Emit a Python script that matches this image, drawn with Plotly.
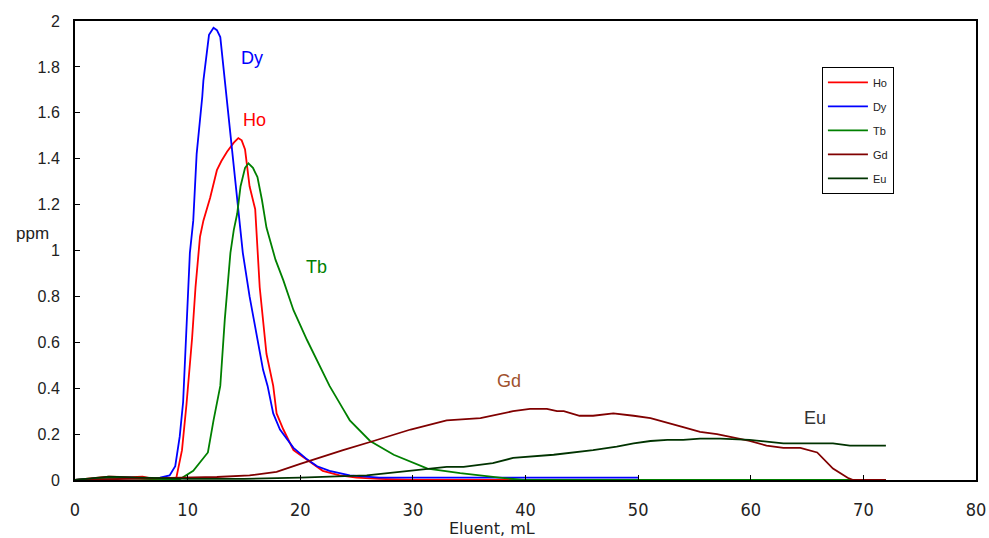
import plotly.graph_objects as go

ho_x = [0, 2, 3, 5, 6, 7, 8, 9.0, 9.5, 9.9, 10.4, 10.7, 11.1, 11.4, 12.0, 12.6, 13.0, 13.5, 14.1, 14.5, 14.8, 15.1, 15.5, 16.0, 16.4, 17.0, 17.6, 17.9, 18.5, 19.4, 20.6, 22.0, 23.5, 25, 27, 30, 40, 50, 60, 72]
ho_y = [0, 0.01, 0.015, 0.012, 0.015, 0.005, 0.005, 0.01, 0.13, 0.33, 0.62, 0.84, 1.06, 1.13, 1.23, 1.35, 1.39, 1.43, 1.47, 1.49, 1.48, 1.44, 1.28, 1.18, 0.84, 0.55, 0.41, 0.29, 0.22, 0.13, 0.09, 0.04, 0.02, 0.01, 0.005, 0, 0, 0, 0, 0]

dy_x = [0, 3, 5, 7, 7.55, 8.4, 8.9, 9.3, 9.6, 9.9, 10.2, 10.5, 10.8, 11.3, 11.4, 11.8, 11.9, 12.3, 12.6, 12.9, 13.2, 13.8, 14.4, 14.9, 15.5, 16.2, 16.7, 17.1, 17.6, 18.2, 19.4, 20.6, 21.5, 22.6, 24.4, 27, 30, 40, 50]
dy_y = [0, 0.01, 0.01, 0.005, 0.01, 0.02, 0.06, 0.19, 0.34, 0.70, 0.99, 1.13, 1.42, 1.67, 1.74, 1.90, 1.94, 1.97, 1.96, 1.93, 1.79, 1.49, 1.21, 0.99, 0.80, 0.62, 0.48, 0.41, 0.29, 0.22, 0.14, 0.09, 0.06, 0.04, 0.02, 0.01, 0.01, 0.01, 0.01]

tb_x = [0, 3, 6, 9.2, 10.5, 11.8, 12.3, 12.9, 13.3, 13.8, 14.1, 14.4, 14.7, 15.1, 15.4, 15.8, 16.2, 16.6, 17.0, 17.8, 18.5, 19.4, 20.6, 21.5, 22.6, 23.8, 24.4, 26.2, 28.3, 31.3, 34.2, 37.7, 39.8, 50, 60, 72]
tb_y = [0, 0.01, 0.005, 0, 0.04, 0.12, 0.26, 0.41, 0.70, 0.99, 1.09, 1.16, 1.28, 1.36, 1.38, 1.36, 1.32, 1.22, 1.10, 0.96, 0.87, 0.74, 0.61, 0.52, 0.41, 0.31, 0.26, 0.17, 0.11, 0.05, 0.03, 0.01, 0.0, 0, 0, 0]

gd_x = [0, 5, 10, 12.6, 15.5, 17.9, 20, 22.4, 23.8, 26.5, 29.8, 33, 36, 38.9, 40.4, 41.9, 42.8, 43.4, 44.8, 46, 47.8, 49.6, 51.1, 54, 55.5, 57, 59.9, 61.4, 62.9, 64.4, 65.9, 67.3, 68.6, 69.1, 72]
gd_y = [0, 0.005, 0.01, 0.013, 0.02, 0.035, 0.07, 0.11, 0.13, 0.17, 0.22, 0.26, 0.27, 0.30, 0.31, 0.31, 0.30, 0.30, 0.28, 0.28, 0.29, 0.28, 0.27, 0.23, 0.21, 0.20, 0.17, 0.15, 0.14, 0.14, 0.12, 0.05, 0.01, 0, 0]

eu_x = [0, 3, 6, 10, 15, 20, 25.9, 28.9, 33, 34.5, 37.1, 38.9, 42.5, 46, 48.1, 49.6, 51.1, 52.6, 54, 55.5, 57.3, 59.9, 62.9, 67.3, 68.8, 72]
eu_y = [0, 0.015, 0.01, 0.005, 0.005, 0.01, 0.02, 0.035, 0.057, 0.057, 0.074, 0.096, 0.11, 0.13, 0.145, 0.16, 0.17, 0.175, 0.175, 0.18, 0.18, 0.175, 0.16, 0.16, 0.15, 0.15]

series = [
    ("Ho", ho_x, ho_y, "#FF0000"),
    ("Dy", dy_x, dy_y, "#0000FF"),
    ("Tb", tb_x, tb_y, "#008000"),
    ("Gd", gd_x, gd_y, "#800000"),
    ("Eu", eu_x, eu_y, "#003300"),
]

labels = [
    ("Dy", 15.7, 1.84, "#0000FF"),
    ("Ho", 15.9, 1.57, "#FF0000"),
    ("Tb", 21.4, 0.93, "#008000"),
    ("Gd", 38.5, 0.43, "#A0522D"),
    ("Eu", 65.7, 0.27, "#333333"),
]

x_ticks = [0, 10, 20, 30, 40, 50, 60, 70, 80]
y_ticks = [0, 0.2, 0.4, 0.6, 0.8, 1, 1.2, 1.4, 1.6, 1.8, 2]

fig = go.Figure()
for name, xs, ys, col in series:
    fig.add_trace(go.Scatter(x=xs, y=ys, mode="lines", name=name, legendgroup=name,
                             line=dict(color=col, width=1.8)))

for t, x, y, col in labels:
    fig.add_annotation(x=x, y=y, text=t, showarrow=False,
                       font=dict(family="Liberation Sans, Arial", size=18, color=col))

fig.add_annotation(xref="paper", yref="paper", x=-0.068, y=0.538, text="ppm",
                   showarrow=False, font=dict(family="Liberation Sans, Arial", size=17, color="#222"))
fig.add_annotation(xref="paper", yref="paper", x=0.463, y=-0.105, yanchor="middle",
                   text="Eluent, mL", showarrow=False,
                   font=dict(family="DejaVu Sans, Liberation Sans", size=16, color="#222"))

fig.update_layout(
    width=989, height=538,
    margin=dict(l=75, r=13, t=21, b=58, autoexpand=False),
    plot_bgcolor="white", paper_bgcolor="white",
    showlegend=True,
    legend=dict(x=0.829, y=0.9, xanchor="left", yanchor="top",
                bgcolor="white", bordercolor="black", borderwidth=1,
                font=dict(family="Liberation Sans, Arial", size=11, color="#222"),
                itemwidth=40, tracegroupgap=5),
    xaxis=dict(range=[0, 80], tickvals=x_ticks, showgrid=False, zeroline=False,
               showline=True, linecolor="black", linewidth=2, mirror=True,
               ticks="inside", ticklen=5, tickcolor="black", automargin=False,
               ticklabelstandoff=12,
               tickfont=dict(family="DejaVu Sans Condensed, Liberation Sans Narrow, Arial", size=18, color="#222")),
    yaxis=dict(range=[0, 2], tickvals=y_ticks, showgrid=False, zeroline=False,
               showline=True, linecolor="black", linewidth=2, mirror=True,
               ticks="inside", ticklen=5, tickcolor="black", automargin=False,
               ticklabelstandoff=10,
               tickfont=dict(family="Liberation Sans, Arial", size=16, color="#222")),
)

fig.write_html("out.html", config={"displayModeBar": False},
               post_script="document.body.style.margin='0px';document.body.style.overflow='hidden';")
